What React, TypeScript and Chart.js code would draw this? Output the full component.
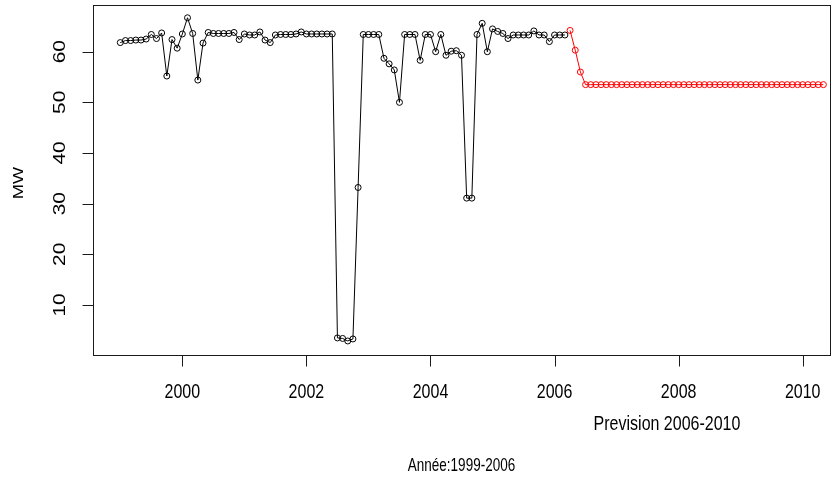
import React, { useEffect, useRef } from "react";
import { Chart, registerables } from "chart.js";

Chart.register(...registerables);

// Monthly observed power (MW), Jan 1999 .. Mar 2006
const observedStart = [1999, 1]; // year, month
const observedMW = [
  61.8, 62.2, 62.2, 62.3, 62.3, 62.5, 63.4, 62.6, 63.7, 55.2,
  62.4, 60.7, 63.5, 66.7, 63.6, 54.4, 61.7, 63.8, 63.6, 63.6,
  63.6, 63.6, 63.8, 62.4, 63.5, 63.3, 63.3, 63.9, 62.3, 61.8,
  63.3, 63.4, 63.4, 63.4, 63.5, 63.9, 63.5, 63.5, 63.5, 63.5,
  63.5, 63.5, 3.5, 3.4, 2.9, 3.3, 33.2, 63.4, 63.4, 63.4,
  63.4, 58.7, 57.6, 56.4, 50.0, 63.4, 63.4, 63.4, 58.3, 63.4,
  63.4, 60.0, 63.4, 59.3, 60.1, 60.2, 59.3, 31.1, 31.1, 63.4,
  65.6, 60.0, 64.5, 64.0, 63.6, 62.6, 63.3, 63.3, 63.3, 63.3,
  64.1, 63.3, 63.3, 62.0, 63.3, 63.3, 63.3,
];

// Monthly forecast (MW), Apr 2006 .. May 2010
const forecastStart = [2006, 4]; // year, month
const forecastMW = [
  64.2, 60.3, 56.0, 53.5, 53.5, 53.5, 53.5, 53.5, 53.5, 53.5,
  53.5, 53.5, 53.5, 53.5, 53.5, 53.5, 53.5, 53.5, 53.5, 53.5,
  53.5, 53.5, 53.5, 53.5, 53.5, 53.5, 53.5, 53.5, 53.5, 53.5,
  53.5, 53.5, 53.5, 53.5, 53.5, 53.5, 53.5, 53.5, 53.5, 53.5,
  53.5, 53.5, 53.5, 53.5, 53.5, 53.5, 53.5, 53.5, 53.5, 53.5,
];

const xTickValues = [2000, 2002, 2004, 2006, 2008, 2010];
const yTickValues = [10, 20, 30, 40, 50, 60];
const xAxisTitle = "Année:1999-2006";
const yAxisTitle = "MW";
const forecastNote = "Prevision 2006-2010";

const toPoints = (start: number[], values: number[]) =>
  values.map((v, i) => ({ x: start[0] + (start[1] - 1 + i) / 12, y: v }));

const FONT = "'Liberation Sans', Arial, Helvetica, sans-serif";
const STRETCH = 1.3;

function drawText(
  ctx: CanvasRenderingContext2D,
  text: string,
  cx: number,
  cy: number,
  size: number,
  rotated: boolean
) {
  ctx.save();
  ctx.translate(cx, cy);
  if (rotated) {
    ctx.rotate(-Math.PI / 2);
    ctx.scale(STRETCH, 1);
  } else {
    ctx.scale(1, STRETCH);
  }
  ctx.font = `${size}px ${FONT}`;
  ctx.textAlign = "center";
  ctx.textBaseline = "middle";
  ctx.fillStyle = "#000";
  ctx.fillText(text, 0, 0);
  ctx.restore();
}

const rAxesPlugin = {
  id: "rAxes",
  afterDraw(chart: any) {
    const { ctx, chartArea: a, scales } = chart;
    const xs = scales.x;
    const ys = scales.y;
    ctx.save();
    ctx.strokeStyle = "#1a1a1a";
    ctx.lineWidth = 1;
    const L = Math.round(a.left) + 0.5;
    const T = Math.round(a.top) + 0.5;
    const R = Math.round(a.right) + 0.5;
    const B = Math.round(a.bottom) + 0.5;
    ctx.strokeRect(L, T, R - L, B - T);
    const tick = 11;
    ctx.beginPath();
    xTickValues.forEach((v) => {
      const px = Math.round(xs.getPixelForValue(v)) + 0.5;
      ctx.moveTo(px, B);
      ctx.lineTo(px, B + tick);
    });
    yTickValues.forEach((v) => {
      const py = Math.round(ys.getPixelForValue(v)) + 0.5;
      ctx.moveTo(L, py);
      ctx.lineTo(L - tick, py);
    });
    ctx.stroke();
    xTickValues.forEach((v) => {
      drawText(ctx, String(v), xs.getPixelForValue(v), 392, 16, false);
    });
    yTickValues.forEach((v) => {
      drawText(ctx, String(v), 61, ys.getPixelForValue(v), 16, true);
    });
    drawText(ctx, yAxisTitle, 19, (a.top + a.bottom) / 2 + 3, 14, true);
    drawText(ctx, xAxisTitle, (a.left + a.right) / 2, 466, 13.5, false);
    drawText(ctx, forecastNote, 667, 424, 16, false);
    ctx.restore();
  },
};

export default function App() {
  const canvasRef = useRef<HTMLCanvasElement | null>(null);

  useEffect(() => {
    const canvas = canvasRef.current;
    if (!canvas) return;
    const common = {
      borderWidth: 1,
      pointStyle: "circle",
      pointRadius: 3,
      pointBorderWidth: 1,
      pointBackgroundColor: "rgba(0,0,0,0)",
      tension: 0,
      fill: false,
    };
    const chart = new Chart(canvas, {
      type: "line",
      data: {
        datasets: [
          {
            ...common,
            label: "Observé",
            data: toPoints(observedStart, observedMW),
            borderColor: "#000000",
            pointBorderColor: "#000000",
          },
          {
            ...common,
            label: "Prévision",
            data: toPoints(forecastStart, forecastMW),
            borderColor: "#ff0000",
            pointBorderColor: "#ff0000",
          },
        ],
      } as any,
      options: {
        animation: false,
        responsive: true,
        maintainAspectRatio: false,
        events: [],
        layout: { padding: { left: 93, right: 3, top: 5, bottom: 125 } },
        plugins: {
          legend: { display: false },
          tooltip: { enabled: false },
        },
        scales: {
          x: { type: "linear", display: false, min: 1998.56, max: 2010.44 },
          y: { type: "linear", display: false, min: 0.13, max: 69.22 },
        },
      } as any,
      plugins: [rAxesPlugin],
    });
    return () => chart.destroy();
  }, []);

  return (
    <div
      style={{
        position: "absolute",
        left: 0,
        top: 0,
        width: 835,
        height: 480,
        background: "#ffffff",
      }}
    >
      <canvas ref={canvasRef} />
    </div>
  );
}
